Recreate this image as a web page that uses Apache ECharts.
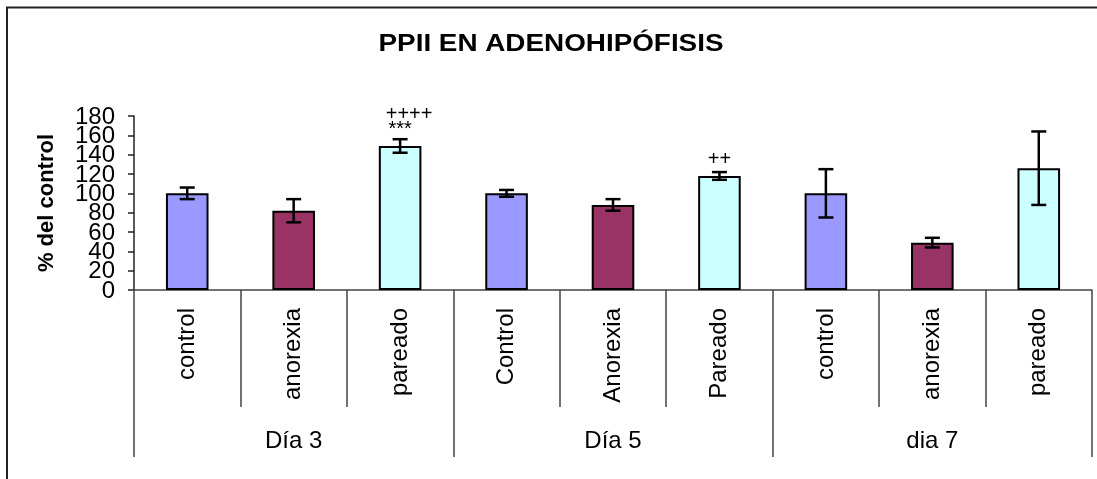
<!DOCTYPE html>
<html>
<head>
<meta charset="utf-8">
<script src="https://cdn.jsdelivr.net/npm/echarts@6/dist/echarts.min.js"></script>
<style>
  html, body { margin: 0; padding: 0; background: #fff; }
  #chart { width: 1097px; height: 479px; }
</style>
</head>
<body>
<div id="chart"></div>
<script>
// data
const categories = ['control', 'anorexia', 'pareado', 'Control', 'Anorexia', 'Pareado', 'control', 'anorexia', 'pareado']
const groups = ['Día 3', 'Día 5', 'dia 7']
const means = [100, 82, 149, 100, 88, 118, 100, 49, 126]
const errors = [6, 12, 7, 3.5, 6, 4, 25, 5, 38]
const plusMarks = ['', '', '++++', '', '', '++', '', '', '']
const starMarks = ['', '', '***', '', '', '', '', '', '']
const yTickLabels = [0, 20, 40, 60, 80, 100, 120, 140, 160, 180]
const yTicks = { min: 0, max: 180, interval: 20 }

const colors = ['#9999FF', '#993366', '#CCFFFF']
const font = 'Liberation Sans, Arial, sans-serif'

const chart = echarts.init(document.getElementById('chart'), null, { renderer: 'canvas' })

const barData = means.map((v, i) => ({
    value: v,
    itemStyle: { color: colors[i % 3] }
}))
const errData = means.map((v, i) => [i, v, errors[i]])

chart.setOption({
    animation: false,
    backgroundColor: '#fff',
    textStyle: { fontFamily: font },
    grid: { left: 134, right: 5, top: 116, bottom: 189 },
    graphic: [
        // outer frame (only top and left edges fall inside the picture)
        {
            type: 'polyline',
            shape: { points: [[7, 479], [7, 7.5], [1097, 7.5]] },
            style: { stroke: '#222', lineWidth: 2, fill: null }
        },
        {
            type: 'text',
            x: 551, y: 44,
            scaleX: 1.16,
            originX: 0, originY: 0,
            style: {
                text: 'PPII EN ADENOHIPÓFISIS',
                x: 0, y: 0,
                font: 'bold 24px ' + font,
                fill: '#000',
                align: 'center',
                verticalAlign: 'middle'
            }
        }
    ],
    xAxis: [{
        type: 'category',
        data: categories,
        position: 'bottom',
        axisLine: { show: true, lineStyle: { color: '#444', width: 1.5 } },
        axisTick: { show: true, inside: false, length: 117, interval: 0, lineStyle: { color: '#444', width: 1.5 } },
        axisLabel: {
            rotate: 90,
            interval: 0,
            margin: 18,
            fontSize: 24,
            color: '#000',
            fontFamily: font
        }
    }, {
        type: 'category',
        data: groups,
        position: 'bottom',
        axisLine: { show: false },
        axisTick: { show: true, inside: false, length: 167, interval: 0, lineStyle: { color: '#444', width: 1.5 } },
        axisLabel: {
            interval: 0,
            margin: 139,
            fontSize: 24,
            color: '#000',
            fontFamily: font
        }
    }],
    yAxis: {
        type: 'value',
        min: yTicks.min,
        max: yTicks.max,
        interval: yTicks.interval,
        name: '% del control',
        nameLocation: 'middle',
        nameGap: 76,
        nameRotate: 90,
        nameTextStyle: { fontSize: 22, fontWeight: 'bold', color: '#000', fontFamily: font },
        axisLine: { show: true, lineStyle: { color: '#222', width: 1.5 } },
        axisTick: { show: true, inside: false, length: 6, lineStyle: { color: '#222', width: 1.5 } },
        // the original labels overlap slightly, and echarts drops some of them,
        // so they are drawn by the custom series below instead
        axisLabel: { show: false },
        splitLine: { show: false }
    },
    series: [{
        type: 'bar',
        data: barData,
        barWidth: '40%',
        itemStyle: { borderColor: '#000', borderWidth: 2 }
    }, {
        type: 'custom',
        data: errData,
        z: 5,
        renderItem: (params, api) => {
            const i = api.value(0)
            const m = api.value(1)
            const e = api.value(2)
            const top = api.coord([i, m + e])
            const bot = api.coord([i, m - e])
            const hw = 7.5
            const st = { stroke: '#000', lineWidth: 2.5 }
            const children = [
                { type: 'line', shape: { x1: top[0], y1: top[1], x2: bot[0], y2: bot[1] }, style: st },
                { type: 'line', shape: { x1: top[0] - hw, y1: top[1], x2: top[0] + hw, y2: top[1] }, style: st },
                { type: 'line', shape: { x1: bot[0] - hw, y1: bot[1], x2: bot[0] + hw, y2: bot[1] }, style: st }
            ]
            const idx = params.dataIndex
            if (starMarks[idx]) {
                children.push({
                    type: 'text',
                    style: { text: starMarks[idx], x: top[0], y: top[1] - 10, align: 'center', verticalAlign: 'middle', font: '20px ' + font, fill: '#000' }
                })
            }
            if (plusMarks[idx]) {
                const up = starMarks[idx] ? 25 : 13
                children.push({
                    type: 'text',
                    style: { text: plusMarks[idx], x: top[0] + (starMarks[idx] ? 9 : 0), y: top[1] - up, align: 'center', verticalAlign: 'middle', font: '20px ' + font, fill: '#000' }
                })
            }
            return { type: 'group', children }
        }
    }, {
        // y tick labels
        type: 'custom',
        data: yTickLabels.map(v => [0, v]),
        clip: false,
        silent: true,
        renderItem: (params, api) => {
            const v = api.value(1)
            const y = api.coord([0, v])[1]
            return {
                type: 'text',
                style: {
                    text: String(v),
                    x: params.coordSys.x - 19,
                    y: y + 1,
                    align: 'right',
                    verticalAlign: 'middle',
                    font: '24px ' + font,
                    fill: '#000'
                }
            }
        }
    }]
})
</script>
</body>
</html>
